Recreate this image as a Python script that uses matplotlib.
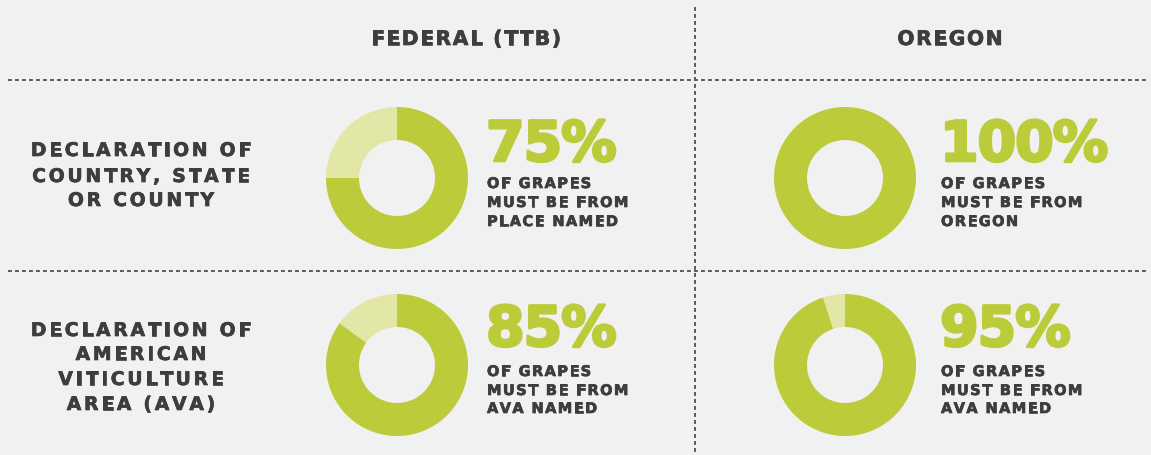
import matplotlib
matplotlib.use("Agg")
import matplotlib.pyplot as plt
import matplotlib.transforms as mtransforms
import matplotlib.patheffects as pe
from matplotlib.font_manager import FontProperties, findfont
from matplotlib.ft2font import FT2Font

W, H = 1151, 456

# data
columns = ["FEDERAL (TTB)", "OREGON"]
rows = [["DECLARATION OF", "COUNTRY, STATE", "OR COUNTY"],
        ["DECLARATION OF", "AMERICAN", "VITICULTURE", "AREA (AVA)"]]
federal_pct = [75, 85]
oregon_pct = [100, 95]
federal_notes = [["OF GRAPES", "MUST BE FROM", "PLACE NAMED"],
                 ["OF GRAPES", "MUST BE FROM", "AVA NAMED"]]
oregon_notes = [["OF GRAPES", "MUST BE FROM", "OREGON"],
                ["OF GRAPES", "MUST BE FROM", "AVA NAMED"]]

green = "#bccb3a"
light = "#e2e6a6"
dark = "#3d3d3d"
bg = "#f1f1f1"

fig = plt.figure(figsize=(W / 100, H / 100), dpi=100, facecolor=bg)
ax = fig.add_axes([0, 0, 1, 1])
ax.set_facecolor(bg)


def tracked(x, y, s, size, color, track, ha="left", stroke=0.5):
    # draw text with letter spacing (track in points), y is baseline in px from top
    prop = FontProperties(family="DejaVu Sans", weight="bold", size=size)
    font = FT2Font(findfont(prop))
    font.set_size(size, 72)
    adv = [font.load_char(ord(ch)).linearHoriAdvance / 65536 for ch in s]
    total = sum(adv) + track * (len(s) - 1)
    pos = {"left": 0, "center": -total / 2, "right": -total}[ha]
    fx = [pe.withStroke(linewidth=stroke, foreground=color)]
    for ch, a in zip(s, adv):
        tr = mtransforms.offset_copy(ax.transData, fig=fig, x=pos, y=0, units="points")
        ax.text(x, H - y, ch, transform=tr, fontproperties=prop, color=color,
                ha="left", va="baseline", path_effects=fx)
        pos += a + track


# grid lines
dots = dict(color="#5a5a5a", lw=1.4, ls=(0, (2, 1.6)))
ax.plot([8, 1148], [H - 81, H - 81], **dots)
ax.plot([8, 1148], [H - 272, H - 272], **dots)
ax.plot([695, 695], [H - 8, 0], **dots)

# headers
col_x = [466, 950]
for cx, name in zip(col_x, columns):
    tracked(cx, 46, name, 14.5, dark, 1.2, ha="center")

# row labels
row_base = [[157, 183, 207], [337, 361, 386, 411]]
for lines, bases in zip(rows, row_base):
    for line, b in zip(lines, bases):
        tracked(141, b, line, 13.5, dark, 2.0, ha="center")

# donuts
donut_x = [397, 845]
donut_y = [179, 366]
for i in range(2):
    for j, pct in enumerate([federal_pct[i], oregon_pct[i]]):
        ax.pie([pct, 100 - pct], colors=[green, light], startangle=90,
               counterclock=False, center=(donut_x[j], H - donut_y[i]), radius=71,
               wedgeprops=dict(width=33, linewidth=0))

# percentage + notes
text_x = [486, 940]
big_base = [162, 347]
note_base = [[189, 208, 227], [377, 396, 414]]
for i in range(2):
    for j, (pct, notes) in enumerate([(federal_pct[i], federal_notes[i]),
                                      (oregon_pct[i], oregon_notes[i])]):
        tracked(text_x[j], big_base[i], f"{pct}%", 40, green, -0.8, stroke=2.0)
        for line, b in zip(notes, note_base[i]):
            tracked(text_x[j] + 1, b, line, 10.5, dark, 1.0)

ax.set_xlim(0, W)
ax.set_ylim(0, H)
ax.set_aspect("auto")
ax.axis("off")

fig.savefig("out.png", dpi=100, facecolor=bg)
